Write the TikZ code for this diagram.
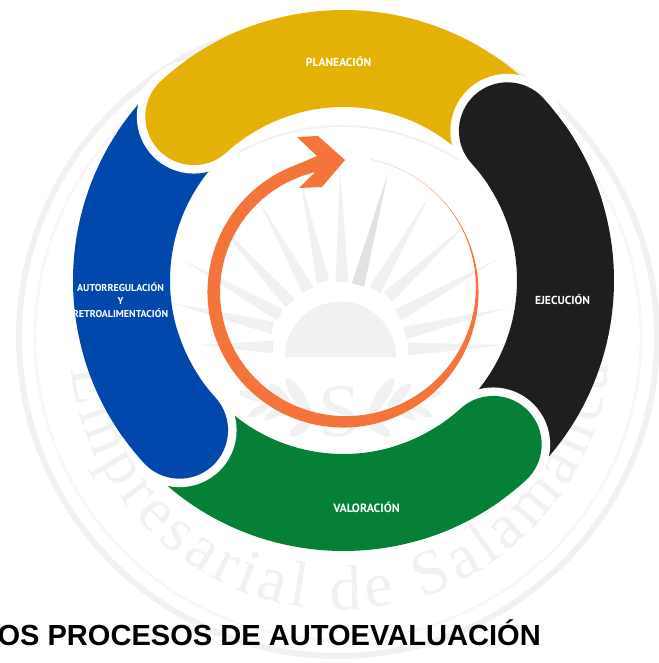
\documentclass[tikz,border=0pt]{standalone}
\usepackage{fontspec}
\setmainfont{Liberation Serif}
\newfontfamily\labelfont{PT Sans}
\newfontfamily\titlefont{Liberation Sans}
\usetikzlibrary{calc,decorations.text}
\definecolor{wm}{HTML}{F1F1F1}
\definecolor{wmdark}{HTML}{E2E2E2}
\definecolor{cyellow}{HTML}{E4B206}
\definecolor{cblack}{HTML}{1E1E1E}
\definecolor{cblue}{HTML}{0048AC}
\definecolor{cgreen}{HTML}{067F37}
\definecolor{corange}{HTML}{F4743B}
\tikzset{
  band/.style={line width=72.75pt},
  casing/.style={fill=white},
  seglabel/.style={font=\labelfont\bfseries\fontsize{8.7}{9.75}\selectfont,text=white,align=center,inner sep=0pt},
  leaf/.style={fill=wm},
}
\newcommand{\wmtext}{\fontsize{48}{48}\selectfont\color{wm}}
\begin{document}
\begin{tikzpicture}[x=.75pt,y=-.75pt]
\useasboundingbox (0,0) rectangle (659,663);
% watermark rings
\begin{scope}[shift={(338,337)},y=.75pt]
  \draw[wm,line width=4.5pt] (0,0) circle[radius=319];
  \draw[wm!60,line width=2pt] (0,0) circle[radius=303];
\end{scope}
\begin{scope}[shift={(342,342)},y=.75pt]
  \draw[wm,line width=1.5pt] (20:216) arc[start angle=20,end angle=160,radius=216];
\end{scope}
% sun
\fill[wm] (285,357) arc[start angle=180,end angle=360,radius=55.5] -- cycle;
% rays
\foreach \ix/\iy/\tx/\ty/\col in {
  408/349/505/345/wm, 405/333/510/307/wm, 398/315/500/258/wm, 388/297/468/223/wm,
  375/290/430/195/wm, 358/285/388/173/wmdark, 342/282/340/168/wm, 323/282/300/177/wm,
  308/290/260/203/wm, 290/303/215/220/wm, 280/315/183/260/wm, 273/328/172/303/wm,
  273/347/200/345/wm}{
  \fill[\col] ($(\ix,\iy)!4.8pt!90:(\tx,\ty)$) -- ($(\ix,\iy)!4.8pt!-90:(\tx,\ty)$) -- (\tx,\ty) -- cycle;
}
% S and laurel
\node[inner sep=0pt,text=wm,font=\fontsize{57}{57}\selectfont] (wmS) at (340,412) {S};
\foreach \x/\y/\a/\l/\w in {
  298/396/123/21/6, 281/396/132/17/5, 252/396/163/14/4,
  258/411/30/11/4, 277/412/32/15/4, 301/428/36/14/5}{
  \fill[leaf,shift={(\x,\y)},rotate=\a] (0,0) ellipse[x radius=\l,y radius=\w];
  \fill[leaf,shift={(680-\x,\y)},rotate=180-\a] (0,0) ellipse[x radius=\l,y radius=\w];
}
% watermark lettering
\begin{scope}[shift={(340,340)},y=.75pt]
  \path[decorate,decoration={text along path,
      text={|\wmtext|Empresarial de Salamanca},text align={fit to path}}]
    (186:270) arc[start angle=186,end angle=355,radius=270];
\end{scope}
% ring segments
\begin{scope}[shift={(343.5,280.5)},y=.75pt]
  \foreach \s/\e/\c in {132.4/42.4/cyellow,42.4/-47.6/cblack,-47.6/-137.6/cgreen,222.4/132.4/cblue}{
    \draw[band,\c] (\s:222) arc[start angle=\s,end angle=\e,radius=222];
  }
  \foreach \s/\c in {132.4/cyellow,42.4/cblack,-47.6/cgreen,222.4/cblue}{
    \fill[casing] (\s:222) circle[radius=57];
    \pgfmathsetmacro{\e}{\s-25}
    \draw[band,\c,line cap=round] (\s:222) arc[start angle=\s,end angle=\e,radius=222];
  }
\end{scope}
% orange arrow
\begin{scope}[shift={(343,292)},y=.75pt]
  \fill[corange] (78:135.5) arc[start angle=78,end angle=-250,radius=135.5]
    -- (-26,136) -- (-46,155) -- (-25,156) -- (2,132) -- (-21,105) -- (-44,104) -- (-28,120)
    -- plot[domain=105:437,samples=90] (\x:{135.5-12.5*(1-exp(-((438-\x)/125)^3))}) -- cycle;
\end{scope}
% labels
\node[seglabel] (plan) at (338.5,62) {PLANEACIÓN};
\node[seglabel] (ejec) at (562.5,300) {EJECUCIÓN};
\node[seglabel,font=\labelfont\bfseries\fontsize{9}{9.75}\selectfont] (valo) at (366.5,507) {VALORACIÓN};
\node[seglabel,font=\labelfont\bfseries\fontsize{7.5}{9.75}\selectfont] (auto) at (120.5,300) {AUTORREGULACIÓN\\Y\\RETROALIMENTACIÓN};
\node[anchor=base east,inner sep=0pt,font=\titlefont\bfseries\fontsize{21.8}{24}\selectfont] (title) at (541,645) {OS PROCESOS DE AUTOEVALUACIÓN};
\end{tikzpicture}
\end{document}
